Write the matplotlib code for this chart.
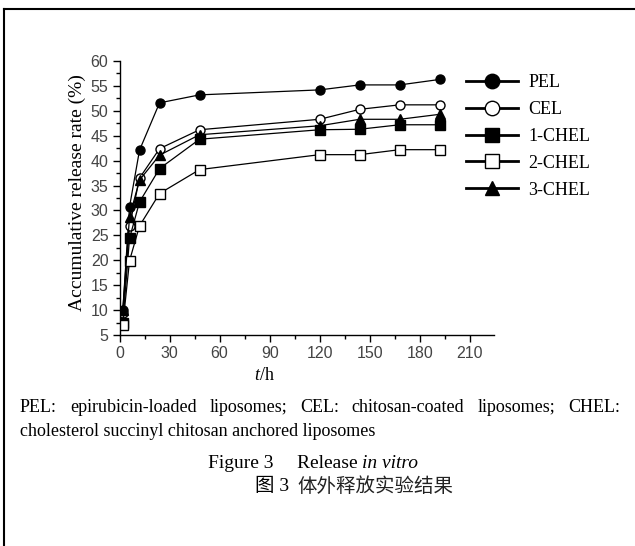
import matplotlib
matplotlib.use("Agg")
import matplotlib.pyplot as plt
from matplotlib.lines import Line2D
from matplotlib.ticker import MultipleLocator

plt.rcParams["mathtext.fontset"] = "custom"
plt.rcParams["mathtext.rm"] = "Liberation Serif"
plt.rcParams["mathtext.it"] = "Liberation Serif:italic"

# 数据
hours = [2, 6, 12, 24, 48, 120, 144, 168, 192]
pel = [10.0, 30.7, 42.1, 51.6, 53.2, 54.2, 55.2, 55.2, 56.3]
cel = [9.5, 26.8, 36.5, 42.4, 46.2, 48.3, 50.3, 51.2, 51.2]
chel1 = [7.5, 24.4, 31.7, 38.4, 44.3, 46.2, 46.3, 47.2, 47.2]
chel2 = [7.0, 19.9, 26.9, 33.4, 38.2, 41.2, 41.2, 42.2, 42.2]
chel3 = [10.0, 28.7, 36.1, 41.1, 45.2, 47.0, 48.3, 48.3, 49.3]
series_names = ["PEL", "CEL", "1-CHEL", "2-CHEL", "3-CHEL"]

W, H = 635, 546
fig = plt.figure(figsize=(W / 100, H / 100), dpi=100)
ax = fig.add_axes([119.5 / W, 1 - 335 / H, (494 - 119.5) / W, (335 - 61) / H])

styles = [
    dict(marker="o", mfc="black"),
    dict(marker="o", mfc="white"),
    dict(marker="s", mfc="black"),
    dict(marker="s", mfc="white"),
    dict(marker="^", mfc="black"),
]
for vals, name, st in zip([pel, cel, chel1, chel2, chel3], series_names, styles):
    ax.plot(hours, vals, color="black", lw=0.9, marker=st["marker"], mfc=st["mfc"],
            mec="black", mew=1.0, ms=6.5, label=name)

ax.set_xlim(0, 224.5)
ax.set_ylim(5, 60)
ax.xaxis.set_major_locator(MultipleLocator(30))
ax.xaxis.set_minor_locator(MultipleLocator(15))
ax.yaxis.set_major_locator(MultipleLocator(5))
ax.yaxis.set_minor_locator(MultipleLocator(2.5))
for s in ["top", "right"]:
    ax.spines[s].set_visible(False)
for s in ["left", "bottom"]:
    ax.spines[s].set_linewidth(1.0)
ax.tick_params(which="major", direction="out", length=5, width=1, pad=3,
               labelsize=11.5, labelcolor="#444444")
ax.tick_params(which="minor", direction="out", length=3, width=1)
for lab in ax.get_xticklabels() + ax.get_yticklabels():
    lab.set_family("Liberation Sans")

ax.set_ylabel("Accumulative release rate (%)", family="Liberation Serif",
              fontsize=14)
ax.yaxis.set_label_coords((86 - 119.5) / (494 - 119.5), (335 - 193) / (335 - 61))
fig.text(264 / W, 1 - 376 / H, r"$t$/h", fontsize=13, ha="center", va="center",
         family="Liberation Serif")

leg = fig.legend(loc="upper left", bbox_to_anchor=(466 / W, 1 - 74 / H),
                 frameon=False, prop={"family": "Liberation Serif", "size": 13},
                 handlelength=2.9, handletextpad=0.55, labelspacing=0.55,
                 borderpad=0, borderaxespad=0, markerscale=1.6)
for ln in leg.get_lines():
    ln.set_linewidth(2.0)

# 图注
serif = "Liberation Serif"
fig.canvas.draw()
renderer = fig.canvas.get_renderer()

words = "PEL: epirubicin-loaded liposomes; CEL: chitosan-coated liposomes; CHEL:".split()
x_left, x_right = 20, 620
txts = [fig.text(0, 1 - 407 / H, w, fontsize=13, family=serif, va="center") for w in words]
widths = [t.get_window_extent(renderer).width for t in txts]
gap = (x_right - x_left - sum(widths)) / (len(words) - 1)
x = x_left
for t, w in zip(txts, widths):
    t.set_x(x / W)
    x += w + gap

fig.text(20 / W, 1 - 432 / H, "cholesterol succinyl chitosan anchored liposomes",
         fontsize=13, family=serif, va="center")

fig.text(208 / W, 1 - 464 / H, "Figure 3", fontsize=14, family=serif, va="center")
rel = fig.text(297 / W, 1 - 464 / H, "Release ", fontsize=14, family=serif, va="center")
rw = rel.get_window_extent(renderer).width
fig.text((297 + rw) / W, 1 - 464 / H, "in vitro", fontsize=14, family=serif,
         style="italic", va="center")

fig.text(255 / W, 1 - 486 / H, "图 3", fontsize=14, va="center",
         family=["Liberation Serif", "Noto Sans CJK SC"])
fig.text(297 / W, 1 - 486 / H, "体外释放实验结果", fontsize=14, va="center",
         family=["Noto Sans CJK SC"], color="#222222")

# 外框
fig.add_artist(Line2D([4 / W, 4 / W], [0, 1 - 9 / H], transform=fig.transFigure,
                      color="black", lw=1.5))
fig.add_artist(Line2D([4 / W, 1], [1 - 9 / H, 1 - 9 / H], transform=fig.transFigure,
                      color="black", lw=1.5))

fig.savefig("out.png", dpi=100)
